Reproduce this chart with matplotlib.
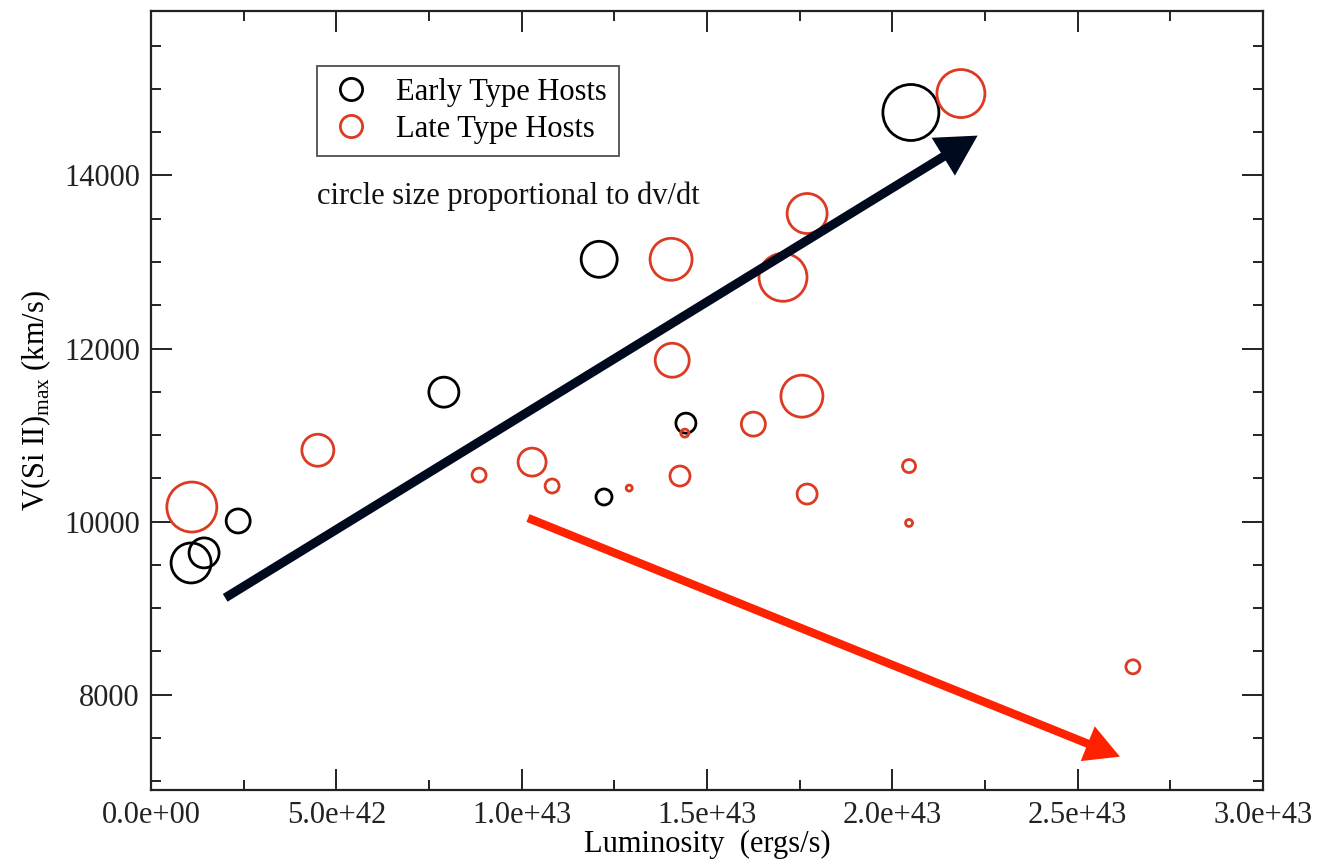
import matplotlib
matplotlib.use("Agg")
import matplotlib.pyplot as plt
from matplotlib.ticker import MultipleLocator, FuncFormatter
from matplotlib.lines import Line2D

# ---- data ----
early_lum = [1.08e42, 1.43e42, 2.35e42, 7.9e42, 1.209e43, 1.443e43, 1.222e43, 2.05e43]
early_vel = [9523, 9639, 10008, 11496, 13031, 11138, 10285, 14727]
early_dvdt = [20, 15, 12, 15, 18, 10, 8, 28]

late_lum = [1.10e42, 4.50e42, 8.85e42, 1.028e43, 1.082e43, 1.29e43, 1.403e43, 1.406e43,
            1.44e43, 1.427e43, 1.625e43, 1.705e43, 1.77e43, 1.756e43, 1.77e43,
            2.045e43, 2.045e43, 2.185e43, 2.649e43]
late_vel = [10169, 10825, 10538, 10688, 10412, 10388, 13031, 11865,
            11023, 10527, 11127, 12823, 13560, 11450, 10319,
            10642, 9985, 14946, 8323]
late_dvdt = [25, 16, 7, 14, 7, 3, 21, 17, 4, 10, 12, 24, 20, 21, 10, 6.5, 3.5, 24, 7]

# trend arrows (start, end) in data units
black_arrow = [(2.0e42, 9120), (2.23e43, 14460)]
red_arrow = [(1.017e43, 10042), (2.614e43, 7285)]

xticks_major = 5e42
yticks_major = 2000

plt.rcParams['font.family'] = ['Liberation Serif', 'DejaVu Serif']
plt.rcParams['mathtext.fontset'] = 'custom'
plt.rcParams['mathtext.rm'] = 'Liberation Serif'

FS = 22
RED = '#dc3a22'

fig = plt.figure(figsize=(13.17, 8.63), dpi=100)
ax = fig.add_axes([0.1147, 0.0846, 0.8443, 0.9027])

px2pt = 0.72

def sizes(r):
    return [(2 * v * px2pt) ** 2 for v in r]

ax.scatter(early_lum, early_vel, s=sizes(early_dvdt), facecolors='none',
           edgecolors='black', linewidths=2.0, zorder=3)
ax.scatter(late_lum, late_vel, s=sizes(late_dvdt), facecolors='none',
           edgecolors=RED, linewidths=2.0, zorder=3)

ax.annotate("", xy=black_arrow[1], xytext=black_arrow[0],
            arrowprops=dict(arrowstyle='simple,head_length=2.9,head_width=3.2,tail_width=0.65',
                            mutation_scale=10, lw=0, color='#000a1e',
                            shrinkA=0, shrinkB=0), zorder=4)
ax.annotate("", xy=red_arrow[1], xytext=red_arrow[0],
            arrowprops=dict(arrowstyle='simple,head_length=2.5,head_width=2.7,tail_width=0.6',
                            mutation_scale=10, lw=0, color='#ff2200',
                            shrinkA=0, shrinkB=0), zorder=4)

ax.set_xlim(0, 3e43)
ax.set_ylim(6900, 15900)
ax.xaxis.set_major_locator(MultipleLocator(xticks_major))
ax.xaxis.set_minor_locator(MultipleLocator(xticks_major / 2))
ax.yaxis.set_major_locator(MultipleLocator(yticks_major))
ax.yaxis.set_minor_locator(MultipleLocator(500))
ax.xaxis.set_major_formatter(FuncFormatter(lambda v, p: f"{v:.1e}"))
ax.yaxis.set_major_formatter(FuncFormatter(lambda v, p: f"{int(round(v))}"))

ax.tick_params(which='both', direction='in', top=True, right=True,
               labelsize=FS, width=1.4, colors='#222222')
ax.tick_params(which='major', length=15, pad=8)
ax.tick_params(which='minor', length=7)
for s in ax.spines.values():
    s.set_linewidth(1.6)
    s.set_color('#222222')

ax.set_xlabel("Luminosity  (ergs/s)", fontsize=FS, labelpad=0)
ax.set_ylabel(r"V(Si II)$_{\mathrm{max}}$ (km/s)", fontsize=FS, labelpad=8)

handles = [Line2D([], [], ls='none', marker='o', markersize=16, mfc='none',
                  mec='black', mew=2.0),
           Line2D([], [], ls='none', marker='o', markersize=16, mfc='none',
                  mec=RED, mew=2.0)]
leg = ax.legend(handles, ["Early Type Hosts", "Late Type Hosts"],
                loc='upper left', bbox_to_anchor=(0.1493, 0.9294), fontsize=FS,
                frameon=True, fancybox=False, edgecolor='#222222',
                borderpad=0.4, handletextpad=0.75, labelspacing=0.25,
                handlelength=1.44, borderaxespad=0)
leg.get_frame().set_linewidth(1.3)

ax.text(0.1493, 0.7625, "circle size proportional to dv/dt", transform=ax.transAxes,
        fontsize=FS, va='center', ha='left', color='#111111')

fig.savefig("out.png", dpi=100)
